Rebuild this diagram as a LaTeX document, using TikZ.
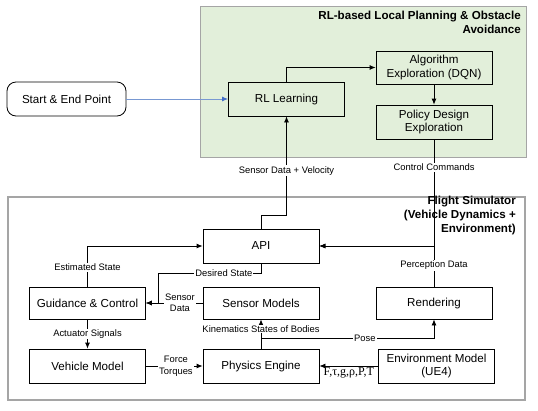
\documentclass[tikz,border=0pt]{standalone}
\usepackage{fontspec}
\setmainfont{Liberation Sans}
\newfontfamily\serifgreek{Liberation Serif}
\usetikzlibrary{arrows.meta}
\definecolor{rlgreen}{RGB}{226,239,218}
\definecolor{framegray}{RGB}{165,165,165}
\definecolor{startblue}{RGB}{120,152,210}
\definecolor{tipblue}{RGB}{68,110,200}

\begin{document}
\begin{tikzpicture}[x=1pt, y=-1pt,
        box/.style={draw, line width=0.8pt, minimum width=116pt, minimum height=33pt,
            inner sep=0pt, align=center, font=\fontsize{11.6}{13.5}\selectfont},
        lbl/.style={fill=white, inner sep=1pt, align=center, font=\fontsize{9.4}{11.5}\selectfont},
        link/.style={draw, line width=0.8pt, -{Latex[length=6pt,width=5pt]}},
        frametitle/.style={anchor=north east, inner sep=0pt, align=right,
            font=\bfseries\fontsize{11.6}{13.8}\selectfont}]
        \useasboundingbox (0,0) rectangle (538,410);
        \fill[white] (0,0) rectangle (538,410);

        % the two frames
        \draw[framegray, fill=rlgreen, line width=1pt] (200,6) rectangle (526,157);
        \draw[framegray, line width=1.2pt] (8,197) rectangle (525,400);
        \node[frametitle] (rltitle) at (521,11) {RL-based Local Planning \& Obstacle\\Avoidance};
        \node[frametitle] (simtitle) at (516,196) {Flight Simulator\\(Vehicle Dynamics +\\Environment)};

        % blocks
        \node[box, rounded corners=9pt, minimum width=119pt, minimum height=34pt] (start) at (66.5,99) {Start \& End Point};
        \node[box, minimum height=34pt] (rl) at (286.5,99) {RL Learning};
        \node[box] (algo) at (434,67.5) {Algorithm\\Exploration (DQN)};
        \node[box, minimum height=34pt] (policy) at (434,122) {Policy Design\\Exploration};
        \node[box, minimum height=34pt] (api) at (261,246) {API};
        \node[box, minimum height=32pt] (guid) at (87.5,303) {Guidance \& Control};
        \node[box, minimum height=32pt] (sensor) at (261,303) {Sensor Models};
        \node[box, minimum height=32pt] (render) at (434,303) {Rendering};
        \node[box, minimum height=34pt] (vehicle) at (87.5,366) {Vehicle Model};
        \node[box, minimum height=34pt] (physics) at (261,366) {Physics Engine};
        \node[box, minimum height=34pt] (env) at (436.5,366) {Environment Model\\(UE4)};

        % bends
        \coordinate (sdbend) at (286.5,215);
        \coordinate (dsbend) at (158,273);
        \coordinate (posebend) at (261,338);

        % connectors
        \draw[startblue, line width=0.9pt, -{Latex[length=6pt,width=5pt,fill=tipblue,color=tipblue]}] (start) -- (rl);
        \draw[link] (rl.north) |- (algo.west);
        \draw[link] (algo) -- (policy);
        \draw[link] (policy.south) |- (api.east) node[lbl, pos=0.13] {Control Commands};
        \draw[link] (render.north) |- (api.east) node[lbl, pos=0.26] {Perception Data};
        \draw[link] (api.north) |- (sdbend) -- (rl.south) node[lbl, pos=0.45] {Sensor Data + Velocity};
        \draw[link] (guid.north) |- (api.west) node[lbl, pos=0.24] {Estimated State};
        \draw[link] (api.south) |- (dsbend) node[lbl, pos=0.68] {Desired State} |- (guid.east);
        \draw[link] (sensor.west) -- (guid.east) node[lbl, pos=0.4] {Sensor\\Data};
        \draw[link] (guid) -- (vehicle) node[lbl, midway] {Actuator Signals};
        \draw[link] (vehicle) -- (physics) node[lbl, pos=0.53] {Force\\Torques};
        \draw[link] (physics.north) -- (sensor.south) node[lbl, pos=0.67] {Kinematics States of Bodies};
        \draw[link] (physics.north) -- (posebend) -| (render.south) node[lbl, pos=0.3] {Pose};
        \draw[link] (env) -- (physics) node[midway, below, inner sep=1pt, font=\serifgreek\fontsize{12}{13}\selectfont] {F,τ,g,ρ,P,T};
\end{tikzpicture}
\end{document}
